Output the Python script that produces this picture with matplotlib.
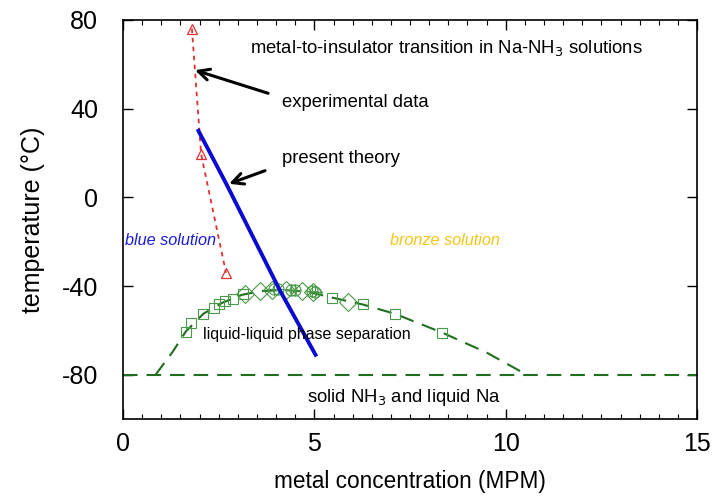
import matplotlib.pyplot as plt

# experimental metal-to-insulator transition (red triangles)
exp_x = [1.80, 2.04, 2.69]
exp_t = [76.0, 19.5, -34.0]

# present theory (blue line)
theory_x = [1.97, 2.7, 3.4, 4.1, 5.03]
theory_t = [30.0, 6.0, -18.0, -42.0, -71.0]

# liquid-liquid coexistence curve (green dashed)
coex_x = [0.85, 1.30, 1.64, 2.10, 2.60, 3.10, 3.60, 4.20, 4.80, 5.46, 6.26, 7.10, 8.34, 9.50, 10.55]
coex_t = [-80.0, -69.6, -60.5, -52.5, -47.5, -44.0, -42.3, -41.8, -42.5, -45.2, -48.3, -52.5, -61.0, -70.0, -80.0]

# measured coexistence points
sq_x = [1.64, 1.78, 2.10, 2.38, 2.52, 2.67, 2.88, 3.14, 5.46, 6.26, 7.11, 8.34]
sq_t = [-60.5, -56.8, -52.5, -50.0, -48.1, -46.9, -45.9, -43.6, -45.4, -48.1, -52.5, -61.0]
dia_x = [3.18, 3.58, 3.88, 4.27, 4.67, 4.97, 5.89]
dia_t = [-43.6, -42.4, -41.8, -42.0, -42.2, -42.6, -47.2]
circ_x = [3.95, 4.05, 4.40, 4.50, 4.95, 5.02]
circ_t = [-41.5, -41.5, -41.8, -41.8, -42.2, -42.5]

# eutectic line
eut_x = [0, 15]
eut_t = [-80, -80]

plt.rcParams['font.family'] = ['Liberation Sans', 'DejaVu Sans']
plt.rcParams['axes.unicode_minus'] = False

fig = plt.figure(figsize=(7.12, 4.96), dpi=100)
ax = fig.add_axes([0.1728, 0.155, 0.8062, 0.805])

green = '#1f6f1f'
mgreen = '#4a9a4a'

ax.plot(eut_x, eut_t, color=green, lw=1.5, dashes=(7, 4.3))
ax.plot(coex_x, coex_t, color=green, lw=1.5, dashes=(7, 4.3))
ax.plot(sq_x, sq_t, ls='none', marker='s', ms=7.5, mfc='none', mec=mgreen, mew=0.8)
ax.plot(dia_x, dia_t, ls='none', marker='D', ms=9, mfc='none', mec=mgreen, mew=0.8)
ax.plot(circ_x, circ_t, ls='none', marker='o', ms=8, mfc='none', mec=mgreen, mew=0.8)
ax.plot(circ_x, circ_t, ls='none', marker='+', ms=8, mec=mgreen, mew=0.8)

ax.plot(exp_x, exp_t, color='#e03030', lw=1.3, dashes=(2.5, 2.5),
        marker='^', ms=7, mfc='none', mec='#e03030', mew=0.9)
ax.plot(theory_x, theory_t, color='#0a0ad0', lw=2.8)

ax.set_xlim(0, 15)
ax.set_ylim(-100, 80)
ax.set_xticks([0, 5, 10, 15])
ax.set_xticks([i * 0.5 for i in range(31)], minor=True)
ax.set_yticks([-80, -40, 0, 40, 80])
ax.tick_params(which='both', direction='in', top=True, right=True, labelsize=18)
ax.tick_params(which='major', length=7, width=1)
ax.tick_params(which='minor', length=3.5, width=0.8)
ax.tick_params(axis='y', pad=18)
ax.tick_params(axis='x', pad=9)
for s in ax.spines.values():
    s.set_linewidth(1.2)

ax.set_xlabel('metal concentration (MPM)', fontsize=16.3, labelpad=10)
ax.set_ylabel('temperature (°C)', fontsize=18, labelpad=12)

fs = 13.3
ax.text(3.32, 67.3, 'metal-to-insulator transition in Na-NH$_3$ solutions',
        fontsize=fs, va='center', ha='left')
ax.text(4.15, 42.8, 'experimental data', fontsize=fs, va='center', ha='left')
ax.text(4.15, 17.4, 'present theory', fontsize=fs, va='center', ha='left')
ax.text(0.05, -19.7, 'blue solution', fontsize=11.7, style='italic',
        color='#1a1adb', va='center', ha='left')
ax.text(6.98, -19.7, 'bronze solution', fontsize=11.7, style='italic',
        color='#f5c518', va='center', ha='left')
ax.text(2.09, -61.9, 'liquid-liquid phase separation', fontsize=11.5,
        va='center', ha='left')
ax.text(4.81, -90.4, 'solid NH$_3$ and liquid Na', fontsize=fs,
        va='center', ha='left')

arrow = dict(arrowstyle='->,head_length=0.8,head_width=0.4', lw=2.2, color='black',
             shrinkA=0, shrinkB=0)
ax.annotate('', xy=(1.88, 57.3), xytext=(3.79, 46.9), arrowprops=arrow)
ax.annotate('', xy=(2.77, 6.1), xytext=(3.71, 12.0), arrowprops=arrow)

fig.savefig('out.png', dpi=100)
